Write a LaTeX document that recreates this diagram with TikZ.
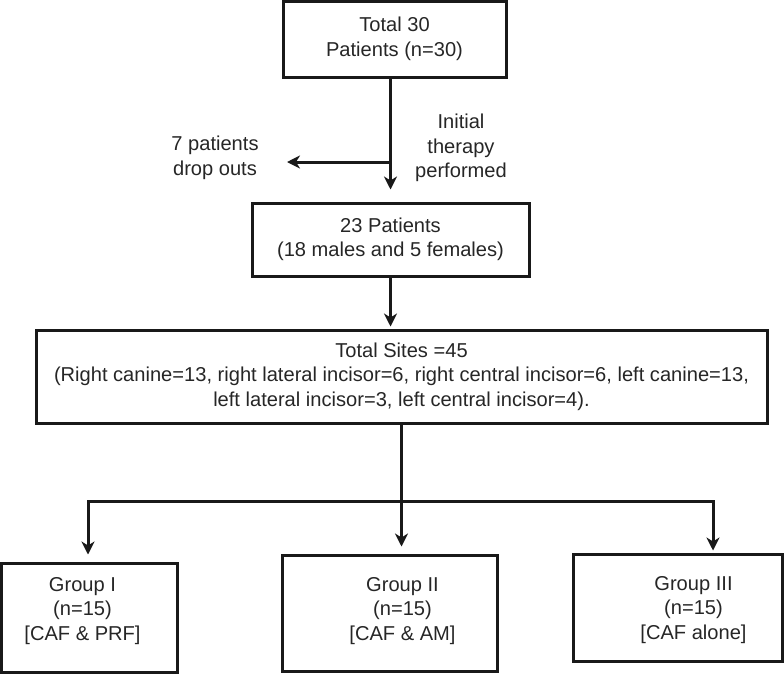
\documentclass[tikz,border=0pt]{standalone}
\usepackage{fontspec}
\setmainfont{Liberation Sans}
\usetikzlibrary{arrows.meta}

\begin{document}
\begin{tikzpicture}[x=1pt,y=-1pt,
        font=\fontsize{20.1}{24.5}\selectfont,
        box/.style={draw=black!90,line width=3pt,inner sep=0pt,align=center,text=black!85},
        txt/.style={inner sep=0pt,align=center,text=black!85},
        arr/.style={draw=black!90,line width=3pt,-{Stealth[length=13pt,width=13pt,inset=4pt]}}]
        \useasboundingbox (0,0) rectangle (784,673);

        \node[box,minimum width=223,minimum height=76] (tot) at (394.5,39) {Total 30\\Patients (n=30)};
        \node[box,minimum width=277,minimum height=73] (pat) at (390.5,239.5) {23 Patients\\(18 males and 5 females)};
        \node[box,minimum width=731,minimum height=93] (sites) at (401.5,376.5) {Total Sites =45\\(Right canine=13, right lateral incisor=6, right central incisor=6, left canine=13,\\left lateral incisor=3, left central incisor=4).};

        \node[txt] (drop) at (215,158) {7 patients\\drop outs};
        \node[txt] (init) at (461,148) {Initial\\therapy\\performed};

        % the three groups
        \node[box,minimum width=176,minimum height=109] (g1) at (89,617.5) {};
        \node[box,minimum width=215,minimum height=116] (g2) at (389.5,613) {};
        \node[box,minimum width=209,minimum height=107] (g3) at (677.5,607.5) {};
        \node[txt] (g1t) at (82.5,611) {Group I\\(n=15)\\{[}CAF \& PRF{]}};
        \node[txt] (g2t) at (402.5,611) {Group II\\(n=15)\\{[}CAF \& AM{]}};
        \node[txt] (g3t) at (693.5,610) {Group III\\(n=15)\\{[}CAF alone{]}};

        \coordinate (fork) at (390.5,162);
        \coordinate (dropend) at (287,162);
        \coordinate (bl) at (88,501);
        \coordinate (br) at (713,501);

        \draw[arr,shorten >=12pt] (pat.north |- tot.south) -- (pat.north);
        \draw[arr] (fork) -- (dropend);
        \draw[arr,shorten >=2pt] (pat.south) -- (pat.south |- sites.north);

        \draw[draw=black!90,line width=3pt,line cap=rect] (bl) -- (br);
        \draw[arr,shorten >=7pt] (sites.south) -- (sites.south |- g2.north);
        \draw[arr,shorten >=7pt] (bl) -- (bl |- g1.north);
        \draw[arr,shorten >=2pt] (br) -- (br |- g3.north);
\end{tikzpicture}
\end{document}
